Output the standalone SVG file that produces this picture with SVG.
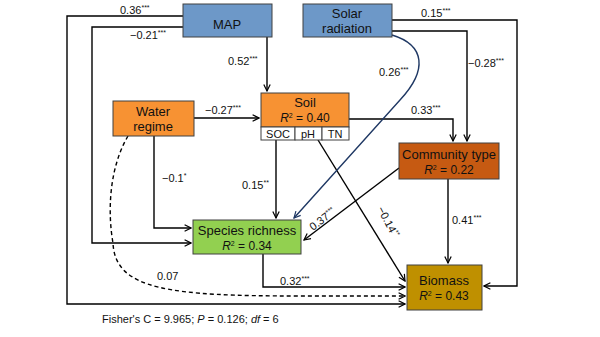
<svg xmlns="http://www.w3.org/2000/svg" width="600" height="337" viewBox="0 0 600 337">
<defs>
<marker id="ah" viewBox="0 0 10 10" refX="9" refY="5" markerWidth="8" markerHeight="8" markerUnits="userSpaceOnUse" orient="auto">
<path d="M1,1 L9,5 L1,9" fill="none" stroke="#000" stroke-width="1.5"/>
</marker>
<marker id="ahb" viewBox="0 0 10 10" refX="9" refY="5" markerWidth="8" markerHeight="8" markerUnits="userSpaceOnUse" orient="auto">
<path d="M1,1 L9,5 L1,9" fill="none" stroke="#1f3864" stroke-width="1.5"/>
</marker>
</defs>
<style>
text{font-family:"Liberation Sans",Arial,sans-serif;fill:#111}
.n{font-size:13px;text-anchor:middle}
.r{font-size:12px;text-anchor:middle}
.s{font-size:11px;text-anchor:middle}
.l{font-size:11px}
.sup{font-size:7px}
.box{stroke:#404040;stroke-width:1}
.c{fill:none;stroke:#000;stroke-width:1.4}
.arr{marker-end:url(#ah)}
</style>
<rect width="600" height="337" fill="#fff"/>
<g id="connectors">
<path class="c arr" d="M183,16 H67 V304 H405"/>
<path class="c arr" d="M183,27 H92 V243 H191"/>
<path class="c arr" d="M267,37 V91"/>
<path class="c arr" d="M194,118 H259"/>
<path class="c arr" d="M154,136 V228 H191"/>
<path class="c arr" d="M392,20 H517 V286 H484"/>
<path class="c arr" d="M392,31 H467 V141"/>
<path class="c arr" d="M349,119 H453 V141"/>
<path class="c arr" d="M276,140 V218"/>
<path class="c arr" d="M318,140 L405,281"/>
<path class="c arr" d="M399,168 L304,240"/>
<path class="c arr" d="M448,179 V263"/>
<path class="c arr" d="M263,254 V287 H405"/>
<path class="c arr" d="M128,136 C108,170 108,215 113,243 C115,290 170,296 300,296 L405,296" stroke-dasharray="4,3"/>
<path d="M392,35 C425,45 428,70 400,100 L294,218" fill="none" stroke="#1f3864" stroke-width="1.4" marker-end="url(#ahb)"/>
</g>
<g id="labels">
<text class="l" x="120" y="14">0.36<tspan class="sup" dy="-4">***</tspan></text>
<text class="l" x="130" y="39">−0.21<tspan class="sup" dy="-4">***</tspan></text>
<text class="l" x="228" y="65">0.52<tspan class="sup" dy="-4">***</tspan></text>
<text class="l" x="205" y="114">−0.27<tspan class="sup" dy="-4">***</tspan></text>
<text class="l" x="421" y="17">0.15<tspan class="sup" dy="-4">***</tspan></text>
<text class="l" x="468" y="67">−0.28<tspan class="sup" dy="-4">***</tspan></text>
<text class="l" x="379" y="76">0.26<tspan class="sup" dy="-4">***</tspan></text>
<text class="l" x="411" y="114">0.33<tspan class="sup" dy="-4">***</tspan></text>
<text class="l" x="162" y="182">−0.1<tspan class="sup" dy="-4">*</tspan></text>
<text class="l" x="242" y="189">0.15<tspan class="sup" dy="-4">**</tspan></text>
<text class="l" x="452" y="224">0.41<tspan class="sup" dy="-4">***</tspan></text>
<text class="l" x="280" y="285">0.32<tspan class="sup" dy="-4">***</tspan></text>
<text class="l" x="157" y="280">0.07</text>
<text class="l" x="0" y="0" transform="translate(313,231) rotate(-37)">0.37<tspan class="sup" dy="-4">***</tspan></text>
<text class="l" x="0" y="0" transform="translate(377,209) rotate(62)">−0.14<tspan class="sup" dy="-4">**</tspan></text>
</g>
<g id="MAP">
<rect class="box" x="183" y="4" width="89" height="33" fill="#6d98c8"/>
<text class="n" x="227" y="29">MAP</text>
</g>
<g id="solar">
<rect class="box" x="303" y="4" width="89" height="33" fill="#6d98c8"/>
<text class="n" x="347" y="18">Solar</text>
<text class="n" x="347" y="33">radiation</text>
</g>
<g id="water">
<rect class="box" x="113" y="101" width="81" height="35" fill="#f79233"/>
<text class="n" x="153" y="116">Water</text>
<text class="n" x="153" y="131">regime</text>
</g>
<g id="soil">
<rect class="box" x="261" y="93" width="88" height="34" fill="#f79233"/>
<text class="n" x="305" y="107">Soil</text>
<text class="r" x="305" y="122"><tspan font-style="italic">R</tspan><tspan class="sup" dy="-4">2</tspan><tspan dy="4"> = 0.40</tspan></text>
<rect class="box" x="261" y="127" width="34" height="13" fill="#fff"/>
<rect class="box" x="295" y="127" width="27" height="13" fill="#fff"/>
<rect class="box" x="322" y="127" width="27" height="13" fill="#fff"/>
<text class="s" x="278" y="138">SOC</text>
<text class="s" x="308" y="138">pH</text>
<text class="s" x="335" y="138">TN</text>
</g>
<g id="community">
<rect class="box" x="399" y="143" width="100" height="36" fill="#c65a12"/>
<text class="n" x="449" y="159">Community type</text>
<text class="r" x="449" y="174"><tspan font-style="italic">R</tspan><tspan class="sup" dy="-4">2</tspan><tspan dy="4"> = 0.22</tspan></text>
</g>
<g id="species">
<rect class="box" x="193" y="220" width="108" height="34" fill="#92d050"/>
<text class="n" x="247" y="235">Species richness</text>
<text class="r" x="247" y="250"><tspan font-style="italic">R</tspan><tspan class="sup" dy="-4">2</tspan><tspan dy="4"> = 0.34</tspan></text>
</g>
<g id="biomass">
<rect class="box" x="407" y="265" width="75" height="45" fill="#bf9000"/>
<text class="n" x="444" y="285">Biomass</text>
<text class="r" x="444" y="300"><tspan font-style="italic">R</tspan><tspan class="sup" dy="-4">2</tspan><tspan dy="4"> = 0.43</tspan></text>
</g>
<text class="l" x="102" y="323">Fisher's C = 9.965; <tspan font-style="italic">P</tspan> = 0.126; <tspan font-style="italic">df</tspan> = 6</text>
</svg>
